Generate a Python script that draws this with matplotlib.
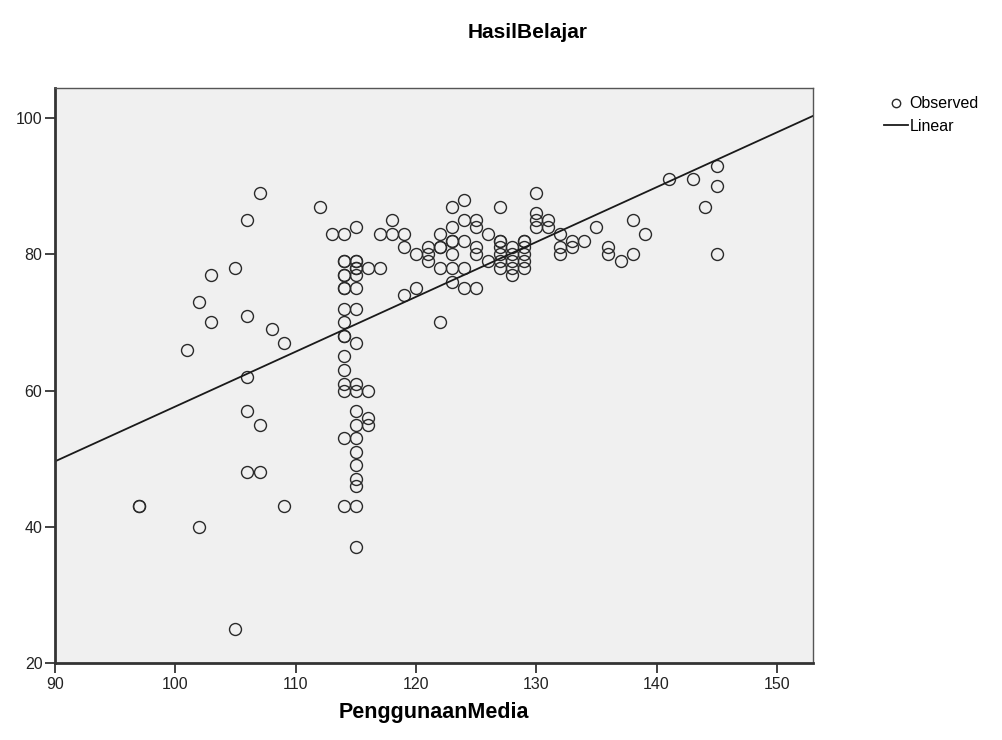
import numpy as np
import matplotlib
matplotlib.use("Agg")
import matplotlib.pyplot as plt

plt.rcParams['font.family'] = ['Liberation Sans', 'DejaVu Sans']

# PenggunaanMedia (x) and HasilBelajar (y)
media = [97, 97, 101, 102, 102, 103, 103, 105, 105, 106, 106, 106, 106, 106, 107, 107, 107,
         108, 109, 109, 112, 113,
         114, 114, 114, 114, 114, 114, 114, 114, 114, 114, 114, 114, 114, 114, 114, 114, 114,
         115, 115, 115, 115, 115, 115, 115, 115, 115, 115, 115, 115, 115, 115, 115, 115, 115, 115, 115, 115,
         116, 116, 116, 116, 117, 117, 118, 118, 119, 119, 119, 120, 120,
         121, 121, 121, 122, 122, 122, 122, 122, 123, 123, 123, 123, 123, 123, 123,
         124, 124, 124, 124, 124, 125, 125, 125, 125, 125, 126, 126,
         127, 127, 127, 127, 127, 127, 127, 128, 128, 128, 128, 128,
         129, 129, 129, 129, 129, 129, 130, 130, 130, 130, 131, 131,
         132, 132, 132, 133, 133, 134, 135, 136, 136, 137, 138, 138, 139,
         141, 143, 144, 145, 145, 145]
hasil = [43, 43, 66, 73, 40, 77, 70, 78, 25, 85, 71, 62, 57, 48, 89, 55, 48,
         69, 67, 43, 87, 83,
         83, 79, 79, 77, 77, 75, 75, 72, 70, 68, 68, 65, 63, 60, 53, 43, 61,
         84, 79, 78, 77, 75, 72, 67, 61, 60, 57, 55, 53, 51, 49, 47, 46, 43, 37, 79, 78,
         78, 60, 56, 55, 83, 78, 85, 83, 83, 81, 74, 80, 75,
         81, 80, 79, 83, 81, 81, 78, 70, 87, 84, 82, 80, 78, 76, 82,
         88, 85, 82, 78, 75, 85, 84, 81, 80, 75, 83, 79,
         87, 82, 82, 81, 80, 79, 78, 81, 80, 79, 78, 77,
         82, 82, 81, 80, 79, 78, 89, 86, 85, 84, 85, 84,
         83, 81, 80, 82, 81, 82, 84, 81, 80, 79, 85, 80, 83,
         91, 91, 87, 93, 90, 80]

# fitted linear line, as drawn
intercept = -22.85
slope = 0.805

fig = plt.figure(figsize=(10.03, 7.40), dpi=100)
ax = fig.add_axes([0.0548, 0.104, 0.7558, 0.777])
ax.set_facecolor('#F0F0F0')

obs, = ax.plot(media, hasil, linestyle='none', marker='o', markersize=8.6,
               markerfacecolor='none', markeredgecolor='#2a2a2a', markeredgewidth=1.0,
               label='Observed')
xl = np.array([90, 153])
lin, = ax.plot(xl, intercept + slope * xl, color='#1a1a1a', linewidth=1.3, label='Linear')

ax.set_xlim(90, 153)
ax.set_ylim(20, 104.4)
ax.set_xticks(range(90, 151, 10))
ax.set_yticks(range(20, 101, 20))
ax.tick_params(direction='out', length=7, width=1.2, labelsize=11.5, colors='#222222', pad=2)
ax.tick_params(axis='x', pad=3)

for side in ['left', 'bottom']:
    ax.spines[side].set_linewidth(2.0)
    ax.spines[side].set_color('#333333')
for side in ['top', 'right']:
    ax.spines[side].set_linewidth(1.0)
    ax.spines[side].set_color('#555555')

ax.set_xlabel('PenggunaanMedia', fontsize=15.5, fontweight='bold', labelpad=7)
fig.text(528 / 1003, 1 - 32 / 740, 'HasilBelajar', fontsize=15, fontweight='bold',
         ha='center', va='center')

fig.legend(handles=[obs, lin], loc='upper left', bbox_to_anchor=(878 / 1003, 1 - 90 / 740),
           frameon=False, fontsize=11.5, markerscale=0.7, handlelength=1.45,
           handletextpad=0.12, labelspacing=0.45, borderaxespad=0)

fig.savefig('out.png', dpi=100)
